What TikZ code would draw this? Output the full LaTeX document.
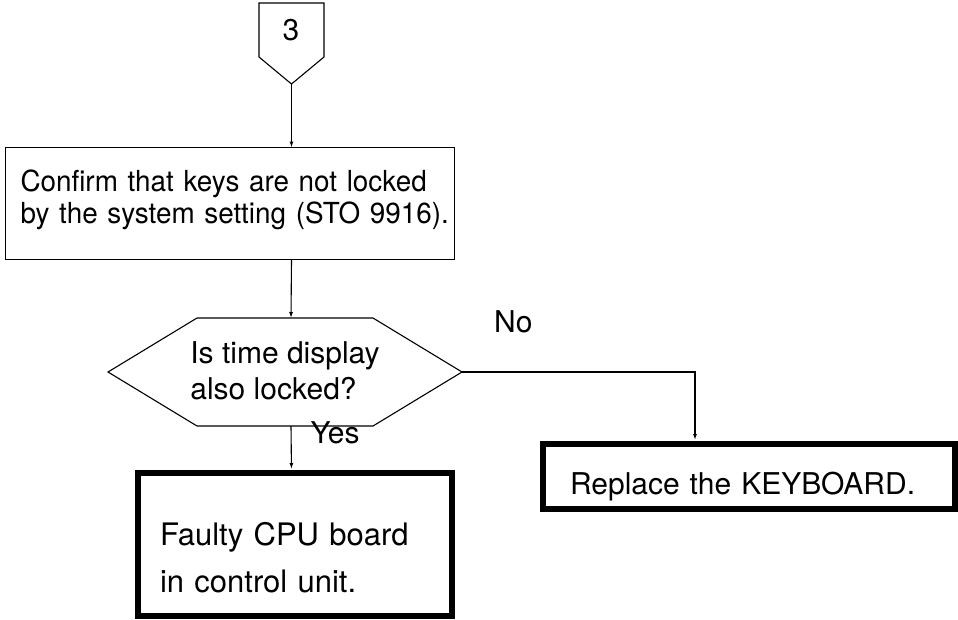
\documentclass[tikz,border=0pt]{standalone}
\usepackage{fontspec}
\setmainfont{TeX Gyre Heros}
\newfontfamily\stepfont[FakeStretch=0.96]{TeX Gyre Heros}
\usetikzlibrary{arrows.meta,positioning}

\begin{document}
\begin{tikzpicture}[x=1pt, y=-1pt, >={Latex[length=6pt,width=4pt]},
  line width=1.1pt, font=\fontsize{30}{32}\selectfont,
  stepbox/.style={draw, rectangle, align=left, anchor=north west, outer sep=0pt, inner ysep=0pt},
  endbox/.style={stepbox, line width=6pt},
  answer/.style={inner sep=2pt}]
  \useasboundingbox (0,0) rectangle (958,619);
  % off-page connector
  \node (entry) at (291,30) {3};
  \draw (259,3) -- (324,3) -- (324,57) -- (291.5,84) coordinate (tip) -- (259,57) -- cycle;
  \node[stepbox, font={\stepfont\fontsize{29}{32}\selectfont}, inner xsep=0pt, text width=449pt,
        execute at begin node={\leftskip=15pt}, text height=43.5pt, text depth=68.5pt] (confirm)
    at (5.5,147.5) {Confirm that keys are not locked\\by the system setting (STO 9916).};
  % decision
  \node[align=left, anchor=base, font=\fontsize{30}{36}\selectfont] (locked)
    at (285,399) {Is time display\\also locked?};
  \draw (108,372) coordinate (hexw) -- (197,318) -- (373,318) -- (462,372) coordinate (hexe)
    -- (373,426) -- (197,426) -- cycle;
  \coordinate (hexn) at (291,318);
  \coordinate (hexs) at (291,426);
  \node[endbox, font=\fontsize{31}{47}\selectfont, inner xsep=22pt, text width=270pt,
        text height=72pt, text depth=71pt] (cpu)
    at (138,473) {Faulty CPU board\\in control unit.};
  \node[endbox, inner xsep=27pt, text width=358pt, text height=50pt, text depth=15pt] (keyboard)
    at (543,444) {Replace the KEYBOARD.};
  \coordinate (drop) at (695,0);
  \draw[->] (tip) -- (confirm.north -| tip);
  \draw[->] (confirm.south -| tip) -- (hexn);
  \draw[->, shorten >=4pt] (hexe) -| node[answer, pos=0.11, above=37pt]{No} (keyboard.north -| drop);
  \draw[->, shorten >=4pt] (hexs) -- node[answer, pos=0.14, right=17pt]{Yes} (cpu.north -| tip);
\end{tikzpicture}
\end{document}
